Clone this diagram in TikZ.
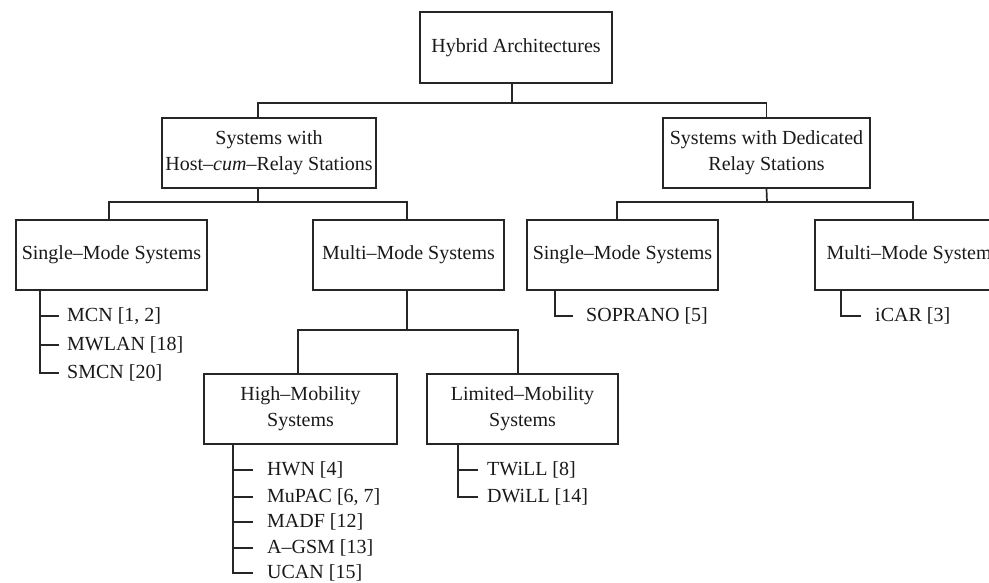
\documentclass[tikz,border=0pt]{standalone}
\usepackage{fontspec}
\setmainfont{Liberation Serif}
\begin{document}
\begin{tikzpicture}[x=1pt,y=-1pt,
  ink/.style={draw=black!85,line width=1.7pt},
  catbox/.style={ink,rectangle,inner sep=0pt,minimum height=70pt,align=center,
    font=\fontsize{20}{26}\selectfont,text=black!90},
  leaf/.style={anchor=west,inner sep=0pt,font=\fontsize{20}{24}\selectfont,text=black!90},
  wire/.style={ink,line cap=rect}]
\useasboundingbox (0,0) rectangle (989,583);
\clip (0,0) rectangle (989,583);

% category boxes
\node[catbox,minimum width=192pt,minimum height=71pt] (root) at (516,47.5) {Hybrid Architectures};
\node[catbox,minimum width=214pt] (hcr) at (269,153) {Systems with\\Host\textendash\textit{cum}\textendash Relay Stations};
\node[catbox,minimum width=207pt] (drs) at (766.5,153) {Systems with Dedicated\\Relay Stations};
\node[catbox,minimum width=191pt] (sl) at (111.5,255) {Single\textendash Mode Systems};
\node[catbox,minimum width=191pt] (ml) at (408.5,255) {Multi\textendash Mode Systems};
\node[catbox,minimum width=191pt] (sr) at (622.5,255) {Single\textendash Mode Systems};
\node[catbox,minimum width=196pt] (mr) at (913,255) {Multi\textendash Mode Systems};
\node[catbox,minimum width=193pt] (hm) at (300.5,409) {High\textendash Mobility\\Systems};
\node[catbox,minimum width=191pt] (lm) at (522.5,409) {Limited\textendash Mobility\\Systems};

% tree connectors
\coordinate (b0) at (512,103);
\draw[wire] ([xshift=-4pt]root.south) -- (b0);
\draw[wire] ([xshift=-11pt]hcr.north) |- (b0) -| (drs.north);
\coordinate (b1) at (258,202);
\draw[wire] ([xshift=-11pt]hcr.south) -- (b1);
\draw[wire] ([xshift=-2.5pt]sl.north) |- (b1) -| ([xshift=-1.5pt]ml.north);
\coordinate (b2) at (767,202);
\draw[wire] (drs.south) -- (b2);
\draw[wire] ([xshift=-5.5pt]sr.north) |- (b2) -| (mr.north);
\coordinate (b3) at (407,330);
\draw[wire] ([xshift=-1.5pt]ml.south) -- (b3);
\draw[wire] ([xshift=-2.5pt]hm.north) |- (b3) -| ([xshift=-4.5pt]lm.north);

% leaves: host-cum-relay, single mode
\node[leaf] (mcn) at (67,316) {MCN [1, 2]};
\node[leaf] (mwlan) at (67,345) {MWLAN [18]};
\node[leaf] (smcn) at (67,373) {SMCN [20]};
\draw[wire] (sl.south -| 40,0) |- ([xshift=-9pt]smcn.west);
\draw[wire] ([xshift=-27pt]mcn.west) -- ([xshift=-9pt]mcn.west);
\draw[wire] ([xshift=-27pt]mwlan.west) -- ([xshift=-9pt]mwlan.west);

% leaves: high mobility
\node[leaf] (hwn) at (267,470) {HWN [4]};
\node[leaf] (mupac) at (267,497) {MuPAC [6, 7]};
\node[leaf] (madf) at (267,522) {MADF [12]};
\node[leaf] (agsm) at (267,548) {A\textendash GSM [13]};
\node[leaf] (ucan) at (267,573) {UCAN [15]};
\draw[wire] (hm.south -| 233,0) |- ([xshift=-15pt]ucan.west);
\foreach \n in {hwn,mupac,madf,agsm}
  \draw[wire] ([xshift=-34pt]\n.west) -- ([xshift=-15pt]\n.west);

% leaves: limited mobility
\node[leaf] (twill) at (487,470) {TWiLL [8]};
\node[leaf] (dwill) at (487,497) {DWiLL [14]};
\draw[wire] (lm.south -| 458,0) |- ([xshift=-10pt]dwill.west);
\draw[wire] ([xshift=-29pt]twill.west) -- ([xshift=-10pt]twill.west);

% leaves: dedicated relay stations
\node[leaf] (soprano) at (586,316) {SOPRANO [5]};
\draw[wire] (sr.south -| 555,0) |- ([xshift=-14pt]soprano.west);
\node[leaf] (icar) at (875,316) {iCAR [3]};
\draw[wire] (mr.south -| 841,0) |- ([xshift=-15pt]icar.west);
\end{tikzpicture}
\end{document}
